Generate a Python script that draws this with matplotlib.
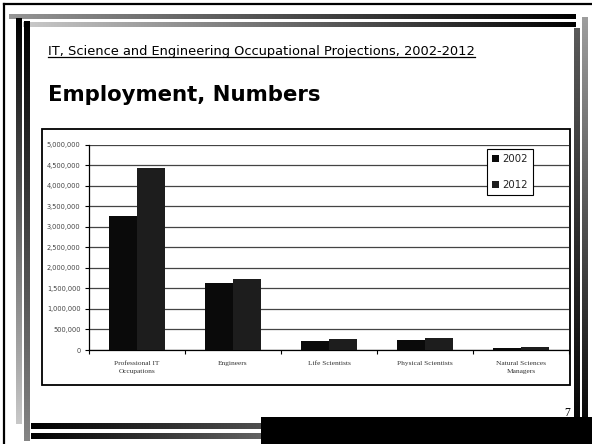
"""Slide: IT, science and engineering employment, 2002 vs 2012."""

import numpy as np
import matplotlib

matplotlib.use("Agg")
import matplotlib.pyplot as plt
from matplotlib.patches import Rectangle
from matplotlib.lines import Line2D

W, H = 592, 444
DPI = 100

categories = [
    "Professional IT\nOccupations",
    "Engineers",
    "Life Scientists",
    "Physical Scientists",
    "Natural Sciences\nManagers",
]
years = ["2002", "2012"]
emp_2002 = [3270000, 1630000, 230000, 250000, 60000]
emp_2012 = [4430000, 1730000, 270000, 290000, 62000]
bar_colors = ["#0a0a0a", "#1d1d1d"]
y_ticks = list(range(0, 5000001, 500000))

subtitle = "IT, Science and Engineering Occupational Projections, 2002-2012"
title = "Employment, Numbers"
page_no = "7"


def frac_box(left, top, right, bottom):
    """Pixel box (from top-left) -> figure-fraction [x, y, w, h]."""
    return [left / W, 1 - bottom / H, (right - left) / W, (bottom - top) / H]


def gradient(ax, x0, y0, x1, y1, c0, c1, vertical=False):
    steps = np.linspace(0, 1, 256)
    a = np.array(matplotlib.colors.to_rgb(c0))
    b = np.array(matplotlib.colors.to_rgb(c1))
    cols = a[None, :] * (1 - steps[:, None]) + b[None, :] * steps[:, None]
    img = cols[:, None, :] if vertical else cols[None, :, :]
    ax.imshow(img, extent=(x0, x1, y1, y0), aspect="auto",
              interpolation="bilinear", zorder=1)


fig = plt.figure(figsize=(W / DPI, H / DPI), dpi=DPI)
fig.patch.set_facecolor("white")

# page decoration layer, in pixel coordinates
bg = fig.add_axes([0, 0, 1, 1])
bg.set_xlim(0, W)
bg.set_ylim(H, 0)
bg.axis("off")

bg.add_line(Line2D([4, W], [4.5, 4.5], color="black", lw=1.6, zorder=2))
bg.add_line(Line2D([3.5, 3.5], [4, H], color="black", lw=1.6, zorder=2))

gradient(bg, 9, 15, 576, 19.5, "#959595", "#000000")
gradient(bg, 23, 22, 576, 27, "#cacaca", "#000000")
gradient(bg, 16, 19, 21.5, 424, "#000000", "#c8c8c8", vertical=True)
gradient(bg, 24, 22, 30, 441, "#000000", "#858585", vertical=True)
gradient(bg, 574, 29, 579.5, H, "#5a5a5a", "#000000", vertical=True)
gradient(bg, 582, 18, 587.5, H, "#9e9e9e", "#000000", vertical=True)
gradient(bg, 31, 423, W, 429, "#000000", "#c0c0c0")
gradient(bg, 31, 433, W, 439, "#000000", "#f0f0f0")
bg.add_patch(Rectangle((261, 417), W - 261, H - 417, facecolor="black",
                       edgecolor="none", zorder=3))

bg.text(570, 416, page_no, fontsize=8.5, family="Liberation Serif",
        ha="right", va="baseline", color="black", zorder=4)

sub = bg.text(48, 55, subtitle, fontsize=9.4, family="DejaVu Sans",
              ha="left", va="baseline", color="black", zorder=4)
bg.text(48, 101, title, fontsize=15.3, family="DejaVu Sans",
        fontweight="bold", ha="left", va="baseline", color="black", zorder=4)

# chart frame
bg.add_patch(Rectangle((42, 129), 528, 256, facecolor="white",
                       edgecolor="black", lw=1.3, zorder=2))

# chart
ax = fig.add_axes(frac_box(89, 144.7, 569, 350))
ax.set_zorder(5)
ax.patch.set_alpha(0)

x = np.arange(len(categories))
bw = 0.285
ax.bar(x - bw / 2 - 0.005, emp_2002, bw, color=bar_colors[0], label=years[0],
       zorder=3)
ax.bar(x + bw / 2 + 0.005, emp_2012, bw, color=bar_colors[1], label=years[1],
       zorder=3)

ax.set_xlim(-0.5, len(categories) - 0.5)
ax.set_ylim(0, 5000000)
ax.set_yticks(y_ticks)
ax.set_yticklabels([f"{v:,}" for v in y_ticks], fontsize=4.8,
                   family="DejaVu Sans", color="#444444")
ax.yaxis.grid(True, color="#444444", lw=0.9, zorder=0)
ax.set_axisbelow(True)

ax.set_xticks(x)
ax.set_xticklabels(categories, fontsize=5.3, family="Liberation Serif",
                   color="#333333", linespacing=1.6)
ax.set_xticks(np.arange(-0.5, len(categories)), minor=True)
ax.tick_params(axis="x", which="major", length=0, pad=8)
ax.tick_params(axis="x", which="minor", length=3, width=0.8, direction="out")
ax.tick_params(axis="y", length=3, width=0.8, pad=3, direction="out")

for side in ("top", "right"):
    ax.spines[side].set_visible(False)
for side in ("left", "bottom"):
    ax.spines[side].set_color("black")
    ax.spines[side].set_linewidth(0.9)

leg = ax.legend(loc="upper left", bbox_to_anchor=(487 / W, 1 - 149 / H),
                bbox_transform=fig.transFigure, fontsize=7.3,
                frameon=True, fancybox=False, shadow=False,
                handlelength=0.7, handleheight=0.7, handletextpad=0.3,
                labelspacing=1.55, borderpad=0.5, borderaxespad=0)
leg.get_frame().set_edgecolor("black")
leg.get_frame().set_linewidth(0.8)
leg.get_frame().set_facecolor("white")
leg.get_frame().set_alpha(1)
for t in leg.get_texts():
    t.set_color("#222222")

# underline the subtitle
fig.canvas.draw()
bb = sub.get_window_extent().transformed(bg.transData.inverted())
bg.add_line(Line2D([bb.x0, bb.x1], [57.5, 57.5], color="black", lw=0.9,
                   zorder=4))

fig.savefig("out.png", dpi=DPI)
